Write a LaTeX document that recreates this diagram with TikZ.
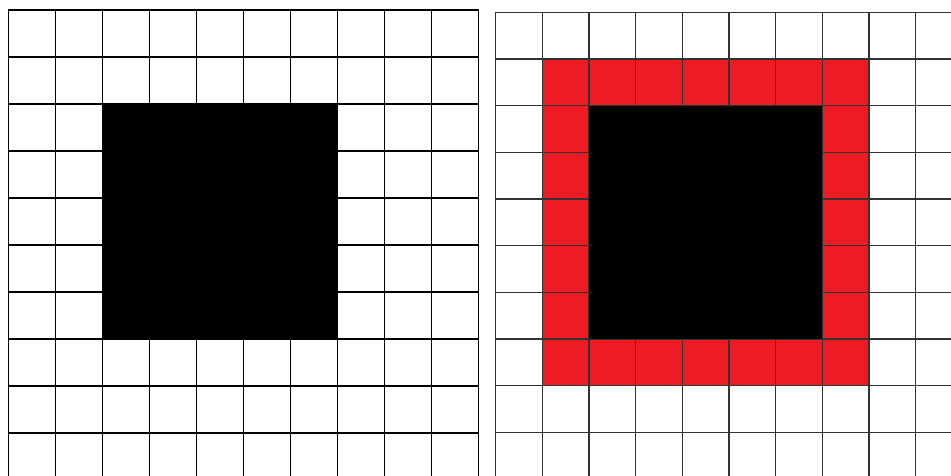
\documentclass[tikz,border=0pt]{standalone}
\definecolor{paintred}{HTML}{ED1C24}
\tikzset{
  gridline/.style={draw=black, line width=1.4pt},
  gridlinegray/.style={draw=black!80, line width=1.4pt},
  blackfill/.style={fill=black},
  redfill/.style={fill=paintred},
}
\begin{document}
\begin{tikzpicture}[x=1pt,y=-1pt]
\useasboundingbox (0,0) rectangle (951,475);
\fill[white] (0,0) rectangle (951,475);
\clip (0,0) rectangle (951,475);
% ---- left grid ----
\foreach \k in {0,...,10} {
  \draw[gridline] ({8.3+47.04*\k},10) -- ({8.3+47.04*\k},480);
}
\foreach \k in {0,...,9} {
  \draw[gridline] (8.3,{10+47*\k}) -- (478.7,{10+47*\k});
}
\fill[blackfill] (102.4,104) rectangle (337.6,339);
% ---- right grid ----
\fill[redfill] (542.3,59) rectangle (869,385.7);
\foreach \k in {0,...,10} {
  \draw[gridlinegray] ({495.7+46.65*\k},12.3) -- ({495.7+46.65*\k},480);
}
\foreach \k in {0,...,9} {
  \draw[gridlinegray] (495.7,{12.3+46.67*\k}) -- (960,{12.3+46.67*\k});
}
\fill[blackfill] (589,105.7) rectangle (822.3,339);
\end{tikzpicture}
\end{document}
